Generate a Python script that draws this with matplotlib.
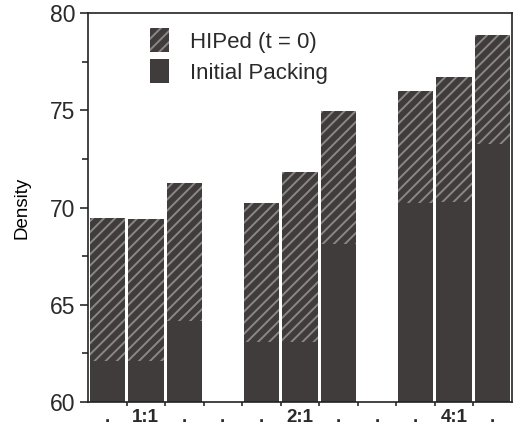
import numpy as np
import matplotlib
matplotlib.use('Agg')
import matplotlib.pyplot as plt
from matplotlib.patches import Patch

# Density before and after HIPing, three bars per aspect ratio group
ratios = ['1:1', '2:1', '4:1']
hiped = [69.45, 69.4, 71.25, 70.25, 71.85, 74.95, 76.0, 76.7, 78.85]
initial = [62.1, 62.1, 64.15, 63.1, 63.1, 68.15, 70.25, 70.3, 73.25]
bars_per_group = 3

BAR_COLOR = '#403c3c'
HATCH_COLOR = '#8c8787'

plt.rcParams['font.family'] = ['Liberation Sans', 'DejaVu Sans']
plt.rcParams['hatch.color'] = HATCH_COLOR
plt.rcParams['hatch.linewidth'] = 1.4
plt.rcParams['text.color'] = '#2a2a2a'
plt.rcParams['xtick.color'] = '#2a2a2a'
plt.rcParams['ytick.color'] = '#2a2a2a'


def main():
    fig = plt.figure(figsize=(5.16, 4.37), dpi=100)
    ax = fig.add_axes([0.1705, 0.080, 0.8215, 0.890])

    # one empty slot between groups
    xs = []
    for g in range(len(ratios)):
        for j in range(bars_per_group):
            xs.append(g * (bars_per_group + 1) + j + 0.5)
    xs = np.array(xs)
    hip = np.array(hiped)
    ini = np.array(initial)

    ax.bar(xs, ini, width=0.92, color=BAR_COLOR, linewidth=0)
    ax.bar(xs, hip - ini, bottom=ini, width=0.92, color=BAR_COLOR,
           hatch='///', edgecolor=HATCH_COLOR, linewidth=0)

    n_slots = len(ratios) * (bars_per_group + 1) - 1
    ax.set_xlim(0, n_slots)
    ax.set_ylim(60, 80)

    ax.set_yticks(np.arange(60, 81, 5))
    ax.set_yticks(np.arange(62.5, 80, 5), minor=True)
    ax.tick_params(axis='y', which='major', length=6, width=1.2,
                   labelsize=16.5, pad=3)
    ax.tick_params(axis='y', which='minor', length=4, width=1.2)

    # tick marks at slot boundaries, labels under the slot centres
    labels = []
    for g, r in enumerate(ratios):
        labels += ['.', r, '.']
        if g < len(ratios) - 1:
            labels.append('.')
    ax.set_xticks(np.arange(1, n_slots))
    ax.set_xticklabels([])
    ax.set_xticks(np.arange(n_slots) + 0.5, minor=True)
    ax.set_xticklabels(labels, minor=True, fontsize=13.5, fontweight='bold')
    ax.tick_params(axis='x', which='major', length=3, width=1.2)
    ax.tick_params(axis='x', which='minor', length=0, pad=5)

    for s in ax.spines.values():
        s.set_linewidth(1.2)
        s.set_color('#222222')

    ax.set_ylabel('Density', fontsize=13.5, labelpad=14)

    handles = [
        Patch(facecolor=BAR_COLOR, hatch='///', edgecolor=HATCH_COLOR,
              linewidth=0, label='HIPed (t = 0)'),
        Patch(facecolor=BAR_COLOR, linewidth=0, label='Initial Packing'),
    ]
    ax.legend(handles=handles, loc='upper left', bbox_to_anchor=(0.10, 1.012),
              frameon=False, fontsize=16, handlelength=0.85, handleheight=1.25,
              handletextpad=0.95, labelspacing=0.3)

    fig.savefig('out.png', dpi=100)
    plt.close(fig)


if __name__ == '__main__':
    main()
